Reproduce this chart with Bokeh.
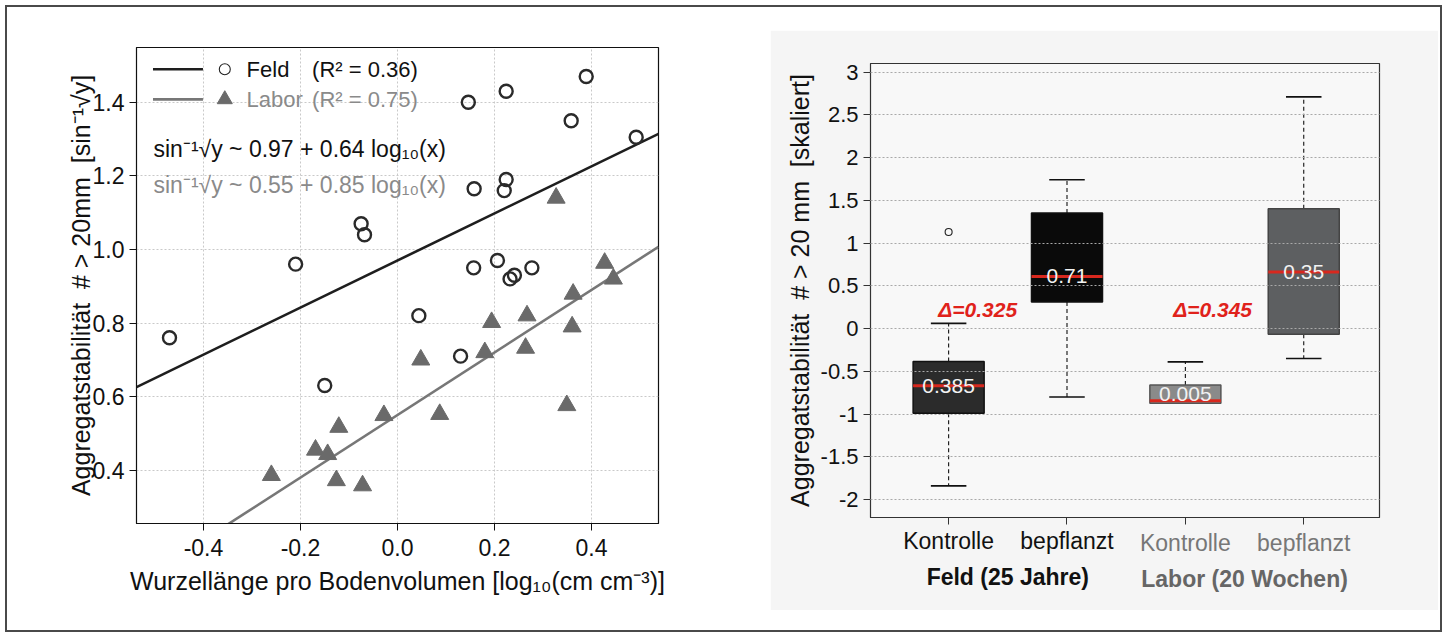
from bokeh.plotting import figure
from bokeh.models import Range1d, FixedTicker, LinearAxis, PrintfTickFormatter
from bokeh.layouts import row, column
from bokeh.embed import file_html
from bokeh.resources import INLINE
from bokeh.core.properties import value

# ---------------- data: left panel (scatter + fits) ----------------
feld_x = [-0.47, -0.21, -0.15, -0.075, -0.068, 0.044, 0.13, 0.146, 0.157, 0.158,
          0.206, 0.224, 0.22, 0.224, 0.232, 0.241, 0.277, 0.358, 0.389, 0.492]
feld_y = [0.76, 0.96, 0.63, 1.07, 1.04, 0.82, 0.71, 1.40, 0.95, 1.165,
          0.97, 1.43, 1.16, 1.19, 0.92, 0.93, 0.95, 1.35, 1.47, 1.305]
labor_x = [-0.26, -0.169, -0.144, -0.126, -0.121, -0.072, -0.028, 0.048, 0.087, 0.18,
           0.194, 0.264, 0.267, 0.327, 0.349, 0.36, 0.362, 0.427, 0.445]
labor_y = [0.386, 0.455, 0.443, 0.372, 0.517, 0.358, 0.549, 0.70, 0.552, 0.72,
           0.802, 0.732, 0.82, 1.14, 0.576, 0.79, 0.879, 0.963, 0.92]
fit_intercept = [0.97, 0.55]   # Feld, Labor
fit_slope = [0.64, 0.85]
series_names = ["Feld", "Labor"]
r2_labels = ["(R\u00b2 = 0.36)", "(R\u00b2 = 0.75)"]
eq_labels = ["sin\u207b\u00b9\u221ay ~ 0.97 + 0.64 log\u2081\u2080(x)",
             "sin\u207b\u00b9\u221ay ~ 0.55 + 0.85 log\u2081\u2080(x)"]
x1_ticks = [-0.4, -0.2, 0.0, 0.2, 0.4]
y1_ticks = [0.4, 0.6, 0.8, 1.0, 1.2, 1.4]

# ---------------- data: right panel (boxplots) ----------------
categories = ["Kontrolle", "bepflanzt", "Kontrolle", "bepflanzt"]
sites = ["Feld (25 Jahre)", "Labor (20 Wochen)"]
q1 = [-0.99, 0.31, -0.875, -0.066]
q3 = [-0.385, 1.35, -0.66, 1.40]
median = [-0.67, 0.61, -0.845, 0.66]
whisk_lo = [-1.84, -0.80, -0.875, -0.35]
whisk_hi = [0.06, 1.74, -0.39, 2.71]
outlier_group = [1]
outlier_val = [1.13]
box_values = [0.385, 0.71, 0.005, 0.35]
y2_ticks = [-2, -1.5, -1, -0.5, 0, 0.5, 1, 1.5, 2, 2.5, 3]

FONT = "Liberation Sans"
FELD_C = "#1e1e1e"
LABOR_C = "#6a6a6a"
LABOR_LINE = "#777777"
LABOR_TXT = "#8a8a8a"
SP = "\u00a0"

# ================= left figure =================
X1 = (-0.538, 0.538)
Y1 = (0.255, 1.549)
p1 = figure(width=760, height=623, x_range=Range1d(*X1), y_range=Range1d(*Y1),
            output_backend="svg", toolbar_location=None,
            min_border_left=129, min_border_right=109, min_border_top=40, min_border_bottom=107,
            background_fill_color="white", border_fill_color="white")
p1.outline_line_color = "#111111"
p1.outline_line_width = 1.2
for ax in (p1.xaxis[0], p1.yaxis[0]):
    ax.major_label_text_font = FONT
    ax.major_label_text_font_size = "23px"
    ax.major_label_text_color = "#111111"
    ax.axis_label_text_font = FONT
    ax.axis_label_text_font_size = "25px"
    ax.axis_label_text_font_style = "normal"
    ax.axis_label_text_color = "#111111"
    ax.major_tick_out = 7
    ax.major_tick_in = 0
    ax.minor_tick_out = 0
    ax.minor_tick_in = 0
    ax.axis_line_color = "#111111"
    ax.major_tick_line_color = "#111111"
    ax.formatter = PrintfTickFormatter(format="%.1f")
p1.xaxis.ticker = FixedTicker(ticks=x1_ticks)
p1.yaxis.ticker = FixedTicker(ticks=y1_ticks)
p1.xaxis.axis_label = "Wurzell\u00e4nge pro Bodenvolumen [log\u2081\u2080(cm cm\u207b\u00b3)]"
p1.xaxis.major_label_standoff = 8
p1.xaxis.axis_label_standoff = 8
p1.yaxis.axis_label = ("Aggregatstabilit\u00e4t" + SP * 2 + "#" + SP + ">" + SP + "20mm" + SP * 2
                       + "[sin\u207b\u00b9\u221ay]")
p1.yaxis.axis_label_standoff = -5
p1.yaxis.major_label_orientation = "horizontal"
for g in (p1.xgrid[0], p1.ygrid[0]):
    g.grid_line_color = "#c9c9c9"
    g.grid_line_dash = "2 2"
    g.grid_line_width = 1
p1.xgrid.ticker = FixedTicker(ticks=x1_ticks)
p1.ygrid.ticker = FixedTicker(ticks=y1_ticks)

# fit lines across the whole x range
fit_x = list(X1)
p1.line(fit_x, [fit_intercept[0] + fit_slope[0] * v for v in fit_x], line_color=FELD_C, line_width=2.6)
p1.line(fit_x, [fit_intercept[1] + fit_slope[1] * v for v in fit_x], line_color=LABOR_LINE, line_width=2.6)

p1.scatter(labor_x, labor_y, marker="triangle", size=18, fill_color=LABOR_C, line_color=LABOR_C)
p1.scatter(feld_x, feld_y, marker="circle", size=13, fill_color=None, line_color="#2a2a2a", line_width=2.4)

# legend (drawn manually)
LEG_Y = [1.49, 1.408]
p1.segment(x0=[-0.504] * 2, x1=[-0.401] * 2, y0=LEG_Y, y1=LEG_Y,
           line_color=[FELD_C, LABOR_LINE], line_width=2.6)
p1.scatter([-0.356], [LEG_Y[0]], marker="circle", size=11, fill_color=None, line_color="#222222", line_width=1.1)
p1.scatter([-0.356], [LEG_Y[1]], marker="triangle", size=15, fill_color=LABOR_C, line_color=LABOR_C)
p1.text(x=[-0.311] * 2, y=LEG_Y, text=series_names, text_color=["#111111", LABOR_TXT],
        text_font=value(FONT), text_font_size="22px", text_baseline="middle")
p1.text(x=[-0.176] * 2, y=LEG_Y, text=r2_labels, text_color=["#111111", LABOR_TXT],
        text_font=value(FONT), text_font_size="22px", text_baseline="middle")
p1.text(x=[-0.503] * 2, y=[1.272, 1.176], text=eq_labels, text_color=["#111111", LABOR_TXT],
        text_font=value(FONT), text_font_size="23px", text_baseline="middle")

# ================= right figure =================
xpos = [1, 2, 3, 4]
X2 = (0.34, 4.64)
Y2 = (-2.21, 3.10)
BG = "#f5f5f5"
p2 = figure(width=668, height=580, x_range=Range1d(*X2), y_range=Range1d(*Y2),
            output_backend="svg", toolbar_location=None,
            min_border_left=100, min_border_right=59, min_border_top=33, min_border_bottom=93,
            background_fill_color="#f8f8f8", border_fill_color=BG)
p2.margin = (23, 2, 20, 3)
p2.outline_line_color = "#333333"
p2.outline_line_width = 1.2


def style_axis(ax, size, color):
    ax.major_label_text_font = FONT
    ax.major_label_text_font_size = size
    ax.major_label_text_color = color
    ax.axis_label_text_font = FONT
    ax.axis_label_text_font_size = "25px"
    ax.axis_label_text_font_style = "normal"
    ax.axis_label_text_color = "#111111"
    ax.major_tick_out = 7
    ax.major_tick_in = 0
    ax.minor_tick_out = 0
    ax.minor_tick_in = 0
    ax.axis_line_color = "#333333"
    ax.major_tick_line_color = "#333333"


style_axis(p2.yaxis[0], "22px", "#111111")
style_axis(p2.xaxis[0], "23px", "#111111")
p2.yaxis.ticker = FixedTicker(ticks=y2_ticks)
p2.yaxis.major_label_overrides = {t: ("%g" % t) for t in y2_ticks}
p2.yaxis.axis_label = ("Aggregatstabilit\u00e4t" + SP * 2 + "#" + SP + ">" + SP + "20" + SP + "mm"
                       + SP * 2 + "[skaliert]")
p2.yaxis.axis_label_standoff = 4

# first row of category labels: Feld (black) on the main axis
p2.xaxis.ticker = FixedTicker(ticks=xpos)
p2.xaxis.major_label_overrides = {x: (categories[i] if i < 2 else "") for i, x in enumerate(xpos)}
p2.xaxis.major_label_standoff = 3

# Labor categories (gray) pulled up into the same row
ax_lab = LinearAxis(ticker=FixedTicker(ticks=xpos[2:]),
                    major_label_overrides={x: categories[i + 2] for i, x in enumerate(xpos[2:])})
style_axis(ax_lab, "23px", "#777777")
ax_lab.axis_line_color = None
ax_lab.major_tick_line_color = None
ax_lab.major_tick_out = 0
ax_lab.major_label_standoff = -27
p2.add_layout(ax_lab, "below")

# site labels (bold)
site_x = [(xpos[0] + xpos[1]) / 2, (xpos[2] + xpos[3]) / 2]
site_cols = ["#111111", "#666666"]
site_standoff = [5, -27]
for xv, t, c, so in zip(site_x, sites, site_cols, site_standoff):
    a = LinearAxis(ticker=FixedTicker(ticks=[xv]), major_label_overrides={xv: t})
    style_axis(a, "23px", c)
    a.major_label_text_font_style = "bold"
    a.axis_line_color = None
    a.major_tick_line_color = None
    a.major_tick_out = 0
    a.major_label_standoff = so
    p2.add_layout(a, "below")

p2.xgrid.visible = False
p2.ygrid.ticker = FixedTicker(ticks=y2_ticks)
p2.ygrid.grid_line_color = "#a9a9a9"
p2.ygrid.grid_line_dash = "2 2"
p2.ygrid.level = "overlay"

box_fill = ["#2b2b2b", "#0a0a0a", "#8a8a8a", "#5d5f61"]
box_line = ["#111111", "#111111", "#555555", "#444444"]
whisk_col = "#111111"

# whiskers (dashed)
p2.segment(x0=xpos, x1=xpos, y0=q3, y1=whisk_hi, line_color=whisk_col, line_dash="4 3", line_width=1.1)
lo_idx = [i for i in range(4) if whisk_lo[i] < q1[i]]
p2.segment(x0=[xpos[i] for i in lo_idx], x1=[xpos[i] for i in lo_idx],
           y0=[q1[i] for i in lo_idx], y1=[whisk_lo[i] for i in lo_idx],
           line_color=whisk_col, line_dash="4 3", line_width=1.1)
# caps
CAP = 0.15
p2.segment(x0=[x - CAP for x in xpos], x1=[x + CAP for x in xpos], y0=whisk_hi, y1=whisk_hi,
           line_color=whisk_col, line_width=1.6)
p2.segment(x0=[xpos[i] - CAP for i in lo_idx], x1=[xpos[i] + CAP for i in lo_idx],
           y0=[whisk_lo[i] for i in lo_idx], y1=[whisk_lo[i] for i in lo_idx],
           line_color=whisk_col, line_width=1.6)
# boxes
BW = 0.6
p2.vbar(x=xpos, width=BW, bottom=q1, top=q3, fill_color=box_fill, line_color=box_line, line_width=1.5)
# medians
p2.segment(x0=[x - BW / 2 for x in xpos], x1=[x + BW / 2 for x in xpos], y0=median, y1=median,
           line_color="#d8281e", line_width=3)
# outlier
p2.scatter([xpos[g - 1] for g in outlier_group], outlier_val, marker="circle", size=7,
           fill_color=None, line_color="#222222", line_width=1.1)
# values inside boxes
label_y = [median[i] if (q3[i] - q1[i]) > 0.3 else (q1[i] + q3[i]) / 2 for i in range(4)]
p2.text(x=xpos, y=label_y, text=["%g" % v for v in box_values], text_color="#f2f2f2",
        text_font=value(FONT), text_font_size="21px", text_align="center", text_baseline="middle")
# deltas between planted and control medians
delta_text = ["\u0394=%.3f" % (box_values[1] - box_values[0]), "\u0394=%.3f" % (box_values[3] - box_values[2])]
p2.text(x=[xpos[0] + 0.245, xpos[2] + 0.23], y=[0.22, 0.22], text=delta_text, text_color="#e0221b",
        text_font=value(FONT), text_font_size="21px", text_font_style="bold italic",
        text_align="center", text_baseline="middle")

layout = row(p1, column(p2), margin=(5, 5, 5, 5),
             styles={"border": "2px solid #4a4a4a", "background": "white"})

open("out.html", "w").write(file_html(layout, INLINE))
